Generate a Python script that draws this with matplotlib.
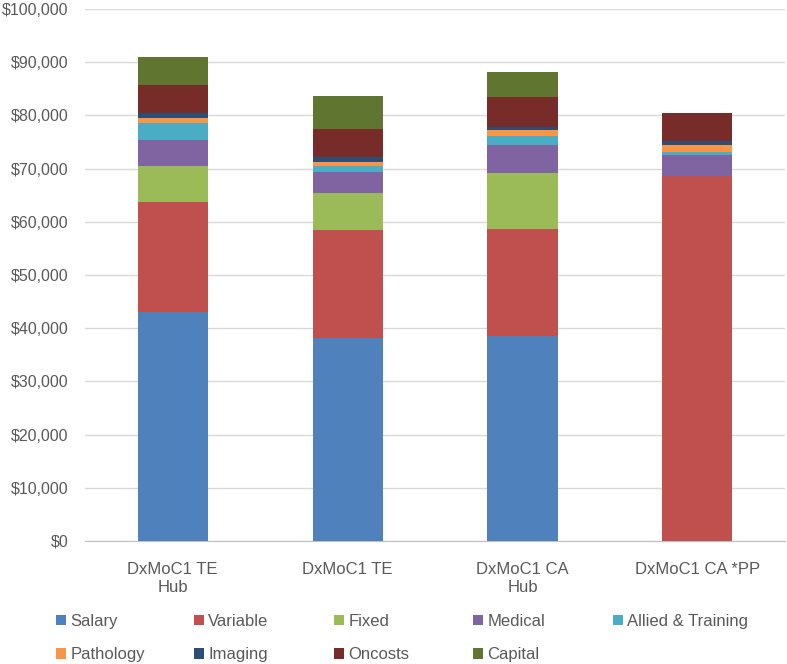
import numpy as np
import matplotlib.pyplot as plt
from matplotlib.ticker import FuncFormatter
from matplotlib.patches import Patch

plt.rcParams['font.family'] = ['Liberation Sans', 'DejaVu Sans']

#categorias e componentes de custo
categories = ['DxMoC1 TE\nHub', 'DxMoC1 TE', 'DxMoC1 CA\nHub', 'DxMoC1 CA *PP']
salary = [43000, 38200, 38600, 0]
variable = [20700, 20300, 20100, 68600]
fixed = [6800, 6900, 10400, 0]
medical = [4900, 3900, 5350, 4000]
allied = [3250, 1100, 1750, 600]
pathology = [950, 900, 1100, 1250]
imaging = [800, 800, 600, 650]
oncosts = [5300, 5300, 5500, 5400]
capital = [5250, 6300, 4850, 0]

series_names = ['Salary', 'Variable', 'Fixed', 'Medical', 'Allied & Training',
                'Pathology', 'Imaging', 'Oncosts', 'Capital']
series_vals = [salary, variable, fixed, medical, allied, pathology, imaging, oncosts, capital]
colors = ['#4F81BD', '#C0504D', '#9BBB59', '#8064A2', '#4BACC6',
          '#F79646', '#2C4D75', '#772C2A', '#5F7530']

W, H = 787, 664
fig = plt.figure(figsize=(W / 100, H / 100), dpi=100)
ax = fig.add_axes([85 / W, 1 - 541 / H, 700 / W, 532 / H])

x = np.arange(len(categories))
bottom = np.zeros(len(categories))
for name, vals, c in zip(series_names, series_vals, colors):
    vals = np.array(vals, dtype=float)
    ax.bar(x, vals, 0.4, bottom=bottom, color=c, label=name, zorder=3)
    bottom += vals

ax.set_xlim(-0.5, 3.5)
ax.set_ylim(0, 100000)
ax.set_yticks(np.arange(0, 100001, 10000))
ax.yaxis.set_major_formatter(FuncFormatter(lambda v, p: f'${v:,.0f}'))
ax.set_xticks(x)
ax.set_xticklabels(categories, linespacing=1.25)
ax.grid(axis='y', color='#D9D9D9', linewidth=1, zorder=0)
for s in ['top', 'right', 'left']:
    ax.spines[s].set_visible(False)
ax.spines['bottom'].set_color('#BFBFBF')
ax.tick_params(axis='y', length=0, colors='#595959', labelsize=11.5, pad=12)
ax.tick_params(axis='x', length=0, colors='#595959', labelsize=12, pad=15)

#legenda: uma coluna de cada vez, espaçamento fixo
handles = [Patch(facecolor=c, label=n) for n, c in zip(series_names, colors)]
col_x = [56, 194, 334, 473, 613]
for i, cx in enumerate(col_x):
    hs = [handles[i]]
    if i + 5 < len(handles):
        hs.append(handles[i + 5])
    fig.legend(handles=hs, loc='upper left', bbox_to_anchor=(cx / W, 1 - 614 / H),
               frameon=False, fontsize=12, handlelength=0.6, handleheight=0.6,
               handletextpad=0.25, labelspacing=1.1, borderpad=0, borderaxespad=0,
               labelcolor='#595959')

plt.savefig('out.png', dpi=100)
